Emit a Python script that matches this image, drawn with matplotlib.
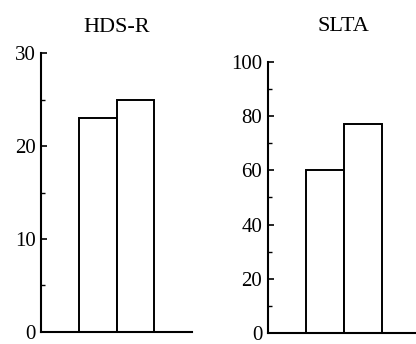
import numpy as np
import matplotlib
matplotlib.use('Agg')
import matplotlib.pyplot as plt
from matplotlib.ticker import MultipleLocator

plt.rcParams['font.family'] = ['Liberation Serif', 'DejaVu Serif']

titles = ['HDS-R', 'SLTA']
hds_r = [23, 25]
slta = [60, 77]
ymax = [30, 100]
major_step = [10, 20]
minor_step = [5, 10]

fig = plt.figure(figsize=(4.16, 3.44), dpi=100)
ax1 = fig.add_axes([0.0986, 0.0349, 0.363, 0.811])
ax2 = fig.add_axes([0.644, 0.032, 0.365, 0.788])

pads = [15, 22]
for ax, vals, t, ym, mj, mn, pd in zip([ax1, ax2], [hds_r, slta], titles, ymax, major_step, minor_step, pads):
    ax.bar([1.5, 2.5], vals, width=1.0, color='white', edgecolor='black', linewidth=1.4)
    ax.set_xlim(0, 4)
    ax.set_ylim(0, ym)
    ax.yaxis.set_major_locator(MultipleLocator(mj))
    ax.yaxis.set_minor_locator(MultipleLocator(mn))
    ax.tick_params(axis='y', which='major', direction='in', length=4, width=1.2, labelsize=15, pad=4)
    ax.tick_params(axis='y', which='minor', direction='in', length=3, width=1.0)
    ax.set_xticks([])
    for s in ['top', 'right']:
        ax.spines[s].set_visible(False)
    for s in ['left', 'bottom']:
        ax.spines[s].set_linewidth(1.5)
    ax.set_title(t, fontsize=16, pad=pd)

fig.savefig('out.png', dpi=100)
